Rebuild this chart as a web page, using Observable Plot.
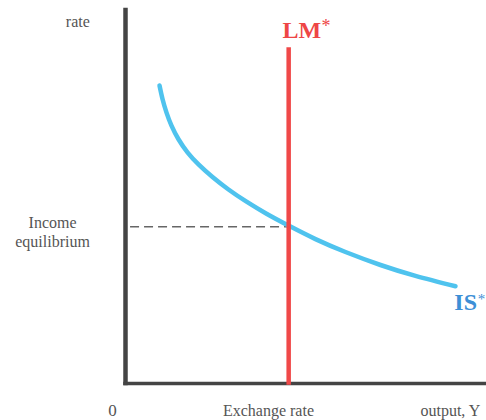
<!DOCTYPE html>
<html><head><meta charset="utf-8">
<script src="https://cdn.jsdelivr.net/npm/d3@7"></script>
<script src="https://cdn.jsdelivr.net/npm/@observablehq/plot@0.6"></script>
<style>html,body{margin:0;padding:0;background:#fff;} svg{display:block}</style>
</head><body><div id="chart"></div>
<script>
// IS* curve (output vs rate, arbitrary units 0..100)
const isX = [9.42, 10.25, 11.36, 12.74, 14.68, 17.17, 20.22, 24.10, 28.53, 33.52, 39.06, 45.43, 52.63, 60.94, 70.64, 80.33, 91.41];
const isY = [79.89, 76.27, 72.63, 69.14, 65.48, 61.98, 58.74, 55.36, 52.01, 48.74, 45.52, 42.20, 38.71, 35.25, 31.77, 28.85, 26.06];
// LM* vertical line
const lmX = [45.2];
const lmTop = [90];
// equilibrium rate
const eqY = [42];
// labels
const axisLabels = ["rate", "Income\nequilibrium", "0", "Exchange rate", "output, Y"];
const curveLabels = ["LM", "IS"];

const isData = isX.map((x, i) => ({x, y: isY[i]}));

const serif = "'Liberation Serif', 'Times New Roman', serif";

const chart = Plot.plot({
  width: 486,
  height: 420,
  marginLeft: 125,
  marginRight: 0,
  marginTop: 10,
  marginBottom: 37,
  x: {domain: [0, 100], axis: null},
  y: {domain: [0, 100], axis: null},
  style: {fontFamily: serif, background: "white"},
  marks: [
    // dashed equilibrium guide
    Plot.ruleY(eqY, {y: d => d, x1: 1.4, x2: lmX[0], stroke: "#666", strokeWidth: 1.5, strokeDasharray: "9,5"}),
    // axes
    Plot.ruleX([0], {y1: 0, y2: 100, stroke: "#444", strokeWidth: 4.5, strokeLinecap: "square"}),
    Plot.ruleY([0], {x1: 0, x2: 100, stroke: "#444", strokeWidth: 3.5, strokeLinecap: "square"}),
    // IS* curve
    Plot.line(isData, {x: "x", y: "y", curve: "natural", stroke: "#4fc3ee", strokeWidth: 4.5}),
    // LM* line
    Plot.ruleX(lmX, {x: d => d, y1: -0.5, y2: lmTop[0], stroke: "#f04848", strokeWidth: 4.5}),
    // axis labels
    Plot.text([axisLabels[0]], {x: -13.2, y: 95.7, text: d => d, fontSize: 16, fill: "#555", lineAnchor: "bottom", textAnchor: "middle"}),
    Plot.text([axisLabels[1]], {x: -20.2, y: 36.5, text: d => d, fontSize: 16, fill: "#555", lineAnchor: "bottom", textAnchor: "middle", lineHeight: 1.19}),
    Plot.text([axisLabels[2]], {x: -3.6, y: -8.6, text: d => d, fontSize: 17, fill: "#555", lineAnchor: "bottom", textAnchor: "middle"}),
    Plot.text([axisLabels[3]], {x: 39.6, y: -8.6, text: d => d, fontSize: 16, fill: "#555", lineAnchor: "bottom", textAnchor: "middle"}),
    Plot.text([axisLabels[4]], {x: 81.7, y: -8.6, text: d => d, fontSize: 16, fill: "#555", lineAnchor: "bottom", textAnchor: "start"}),
    // curve labels
    Plot.text([curveLabels[0]], {x: 43.5, y: 92.5, text: d => d, fontSize: 24, fontWeight: "bold", fill: "#ee4646", lineAnchor: "bottom", textAnchor: "start"}),
    Plot.text(["*"], {x: 54.3, y: 94.2, text: d => d, fontSize: 18, fill: "#ee4646", lineAnchor: "bottom", textAnchor: "start"}),
    Plot.text([curveLabels[1]], {x: 91.1, y: 19.8, text: d => d, fontSize: 24, fontWeight: "bold", fill: "#3d8fd6", lineAnchor: "bottom", textAnchor: "start"}),
    Plot.text(["*"], {x: 97.6, y: 21.4, text: d => d, fontSize: 15, fill: "#3d8fd6", lineAnchor: "bottom", textAnchor: "start"})
  ]
});
document.getElementById("chart").appendChild(chart);
</script></body></html>
